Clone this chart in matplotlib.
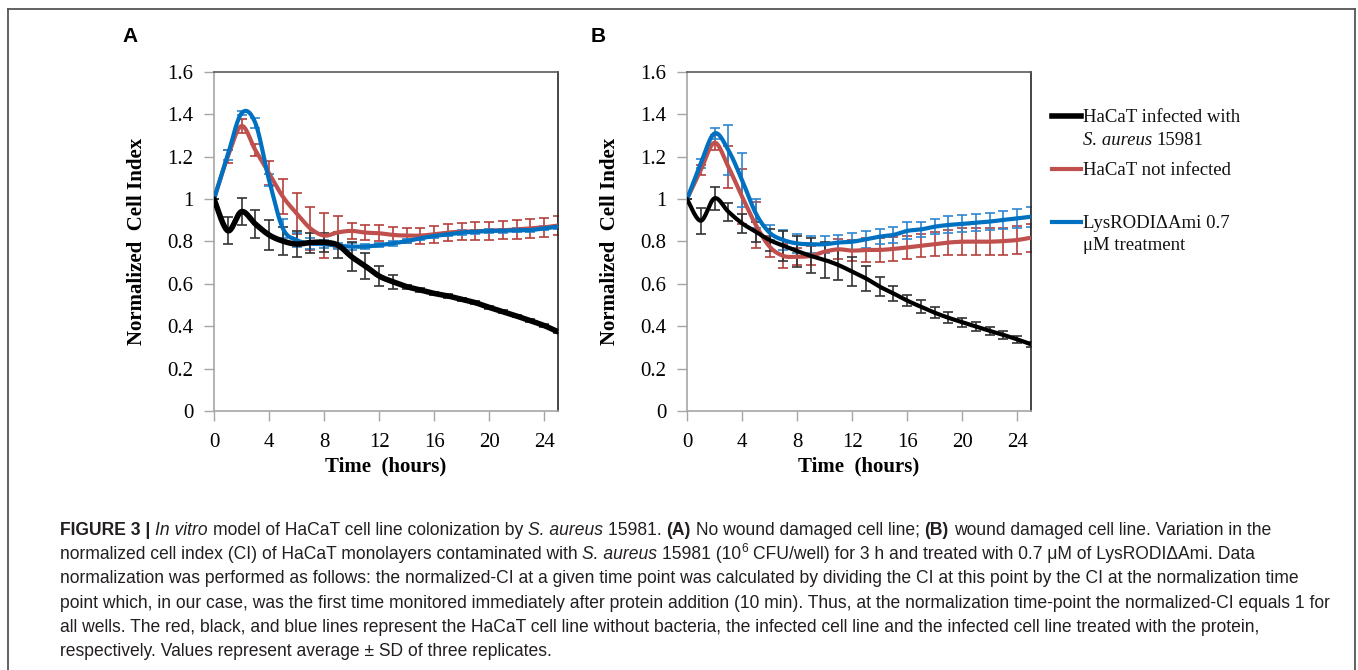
import numpy as np
import matplotlib.pyplot as plt
from matplotlib.lines import Line2D

W, H = 1358, 670

hours = np.arange(26)

# panel A (no wound)
a_black = [1.0, 0.851, 0.941, 0.883, 0.831, 0.802, 0.788, 0.795, 0.796, 0.783, 0.728, 0.684, 0.637,
           0.610, 0.587, 0.571, 0.555, 0.543, 0.527, 0.511, 0.489, 0.469, 0.448, 0.426, 0.403, 0.374]
a_black_sd = [0, 0.063, 0.065, 0.067, 0.07, 0.067, 0.06, 0.047, 0.045, 0.06, 0.068, 0.06, 0.047,
              0.032, 0.01, 0.008, 0.008, 0.008, 0.007, 0.007, 0.007, 0.006, 0.006, 0.006, 0.006, 0.006]
a_red = [1.0, 1.20, 1.345, 1.232, 1.122, 1.012, 0.933, 0.862, 0.828, 0.843, 0.85, 0.842, 0.839,
         0.831, 0.828, 0.828, 0.834, 0.842, 0.846, 0.848, 0.851, 0.853, 0.857, 0.862, 0.867, 0.875]
a_red_sd = [0, 0.03, 0.035, 0.03, 0.057, 0.083, 0.096, 0.10, 0.106, 0.075, 0.038, 0.037, 0.038,
            0.036, 0.037, 0.038, 0.04, 0.04, 0.041, 0.042, 0.042, 0.043, 0.043, 0.044, 0.045, 0.045]
a_blue = [1.0, 1.208, 1.405, 1.36, 1.09, 0.862, 0.807, 0.791, 0.787, 0.78, 0.776, 0.776, 0.783,
          0.791, 0.802, 0.815, 0.826, 0.834, 0.842, 0.846, 0.85, 0.851, 0.853, 0.854, 0.862, 0.87]
a_blue_sd = [0, 0.025, 0.01, 0.025, 0.03, 0.045, 0.035, 0.025, 0.02, 0.015, 0.015, 0.01, 0.01,
             0.01, 0.01, 0.01, 0.01, 0.01, 0.01, 0.01, 0.01, 0.01, 0.01, 0.01, 0.01, 0.01]

# panel B (wound damaged)
b_black = [1.0, 0.898, 1.004, 0.941, 0.886, 0.846, 0.807, 0.78, 0.755, 0.732, 0.713, 0.689, 0.658,
           0.626, 0.587, 0.555, 0.521, 0.492, 0.464, 0.44, 0.419, 0.398, 0.378, 0.359, 0.338, 0.315]
b_black_sd = [0, 0.061, 0.053, 0.043, 0.045, 0.047, 0.05, 0.07, 0.073, 0.083, 0.085, 0.07, 0.068,
              0.058, 0.045, 0.037, 0.027, 0.03, 0.027, 0.025, 0.022, 0.02, 0.02, 0.017, 0.015, 0.012]
b_red = [1.0, 1.137, 1.266, 1.153, 1.012, 0.878, 0.776, 0.732, 0.728, 0.732, 0.752, 0.763, 0.757,
         0.76, 0.76, 0.765, 0.772, 0.78, 0.787, 0.795, 0.799, 0.799, 0.799, 0.802, 0.807, 0.818]
b_red_sd = [0, 0.022, 0.035, 0.1, 0.13, 0.11, 0.05, 0.055, 0.04, 0.045, 0.04, 0.047, 0.05,
            0.055, 0.055, 0.055, 0.055, 0.055, 0.057, 0.06, 0.063, 0.063, 0.063, 0.064, 0.065, 0.066]
b_blue = [1.0, 1.169, 1.31, 1.232, 1.09, 0.933, 0.842, 0.807, 0.791, 0.787, 0.787, 0.795, 0.799,
          0.81, 0.823, 0.831, 0.85, 0.857, 0.87, 0.878, 0.883, 0.889, 0.894, 0.902, 0.909, 0.917]
b_blue_sd = [0, 0.02, 0.027, 0.118, 0.127, 0.067, 0.035, 0.047, 0.045, 0.041, 0.041, 0.037, 0.039,
             0.039, 0.035, 0.039, 0.04, 0.036, 0.036, 0.04, 0.04, 0.04, 0.042, 0.044, 0.045, 0.047]

legend_labels = ["HaCaT infected with", "HaCaT not infected", "LysRODI\u0394Ami 0.7"]
y_ticks = [0, 0.2, 0.4, 0.6, 0.8, 1.0, 1.2, 1.4, 1.6]
y_ticklabels = ["0", "0.2", "0.4", "0.6", "0.8", "1", "1.2", "1.4", "1.6"]
x_ticks = [0, 4, 8, 12, 16, 20, 24]

BLACK, RED, BLUE = "#000000", "#C0504D", "#0070C0"
SERIF = "Liberation Serif"
CAP_FONT = "Liberation Sans"
GRAY = "#A6A6A6"


def fx(px):
    return px / W


def fy(py):
    return 1 - py / H


def smooth(x, y, n=16):
    # Excel-style smoothed line: bezier through each point, control points from neighbours
    p = np.column_stack([np.asarray(x, float), np.asarray(y, float)])
    p = np.vstack([p[:1], p, p[-1:]])
    t = np.linspace(0, 1, n, endpoint=False)[:, None]
    out = []
    for i in range(len(p) - 3):
        p0, p1, p2, p3 = p[i], p[i + 1], p[i + 2], p[i + 3]
        c1 = p1 + (p2 - p0) / 6
        c2 = p2 - (p3 - p1) / 6
        out.append((1 - t) ** 3 * p1 + 3 * (1 - t) ** 2 * t * c1 + 3 * (1 - t) * t ** 2 * c2 + t ** 3 * p2)
    out.append(p[-2:-1])
    out = np.vstack(out)
    return out[:, 0], out[:, 1]


fig = plt.figure(figsize=(W / 100, H / 100), dpi=100)
renderer = fig.canvas.get_renderer()

# outer frame
for xs, ys in [([8, 8], [9, 680]), ([8, 1355], [9, 9]), ([1355, 1355], [9, 680])]:
    fig.add_artist(Line2D([fx(v) for v in xs], [fy(v) for v in ys], color="#555555", lw=1.3))

series = {
    "A": [(a_red, a_red_sd, RED, 3.0), (a_blue, a_blue_sd, BLUE, 3.0), (a_black, a_black_sd, BLACK, 4.0)],
    "B": [(b_red, b_red_sd, RED, 3.0), (b_blue, b_blue_sd, BLUE, 3.0), (b_black, b_black_sd, BLACK, 3.0)],
}
ecolors = {RED: "#B5403D", BLUE: "#2E86D0", BLACK: "#333333"}

for name, left, lab_x in [("A", 214, 130), ("B", 687, 598)]:
    ax = fig.add_axes([fx(left), fy(411), 344 / W, 339 / H])
    for vals, sd, col, lw in series[name]:
        ax.errorbar(hours, vals, yerr=sd, fmt="none", ecolor=ecolors[col], elinewidth=1.2,
                    capsize=3.5, capthick=1.2, zorder=2)
        sx, sy = smooth(hours, vals)
        ax.plot(sx, sy, color=col, lw=lw, solid_capstyle="round", zorder=3)
    ax.set_xlim(0, 25)
    ax.set_ylim(0, 1.6)
    ax.set_xticks(x_ticks)
    ax.set_yticks(y_ticks)
    ax.set_yticklabels(y_ticklabels)
    ax.tick_params(direction="out", length=7, width=1, color=GRAY, pad=8)
    ax.tick_params(axis="x", pad=9)
    for lab in ax.get_xticklabels() + ax.get_yticklabels():
        lab.set_family(SERIF)
        lab.set_fontsize(15)
    ax.spines["left"].set_color(GRAY)
    ax.spines["bottom"].set_color(GRAY)
    ax.spines["top"].set_color("#595959")
    ax.spines["right"].set_color("#262626")
    for s in ax.spines.values():
        s.set_linewidth(1.2)
    ax.set_xlabel("Time  (hours)", family=SERIF, fontsize=15, weight="bold")
    ax.set_ylabel("Normalized  Cell Index", family=SERIF, fontsize=15, weight="bold")
    ax.xaxis.set_label_coords(0.5, -0.165)
    ax.xaxis.label.set_verticalalignment("center")
    ax.yaxis.set_label_coords(-0.225, 0.5)
    ax.yaxis.label.set_verticalalignment("center")
    fig.text(fx(lab_x), fy(37), name, family="Liberation Sans", weight="bold", fontsize=15,
             ha="center", va="center")


def adv(txt, size, family, style):
    kw = dict(fontsize=size, family=family)
    if style == "b":
        kw["weight"] = "bold"
    if style == "i":
        kw["style"] = "italic"
    t1 = fig.text(0, 0, "x" + txt + "x", **kw)
    t2 = fig.text(0, 0, "xx", **kw)
    w = t1.get_window_extent(renderer).width - t2.get_window_extent(renderer).width
    t1.remove()
    t2.remove()
    return w


def draw_runs(x, y, runs, size, family, color):
    for txt, style in runs:
        kw = dict(fontsize=size, family=family, color=color, va="baseline", ha="left")
        yy = y
        if style == "b":
            kw["weight"] = "bold"
        elif style == "i":
            kw["style"] = "italic"
        elif style == "sup":
            kw["fontsize"] = size * 0.68
            yy = y - size * 0.6
        s = kw["fontsize"]
        lead = len(txt) - len(txt.lstrip(" "))
        if txt.strip():
            x0 = x + (adv(" " * lead, s, family, style) if lead else 0)
            fig.text(fx(x0), fy(yy), txt.lstrip(" "), **kw)
        x += adv(txt, s, family, style)
    return x


# legend
leg_rows = [(116, legend_labels[0], BLACK, 4.0), (169, legend_labels[1], RED, 3.0), (222, legend_labels[2], BLUE, 3.0)]
for py, lab, col, lw in leg_rows:
    fig.add_artist(Line2D([fx(1052), fx(1081)], [fy(py), fy(py)], color=col, lw=lw))
draw_runs(1083, 122, [(legend_labels[0], "n")], 13.5, SERIF, "#111111")
draw_runs(1083, 145, [("S. aureus", "i"), (" 15981", "n")], 13.5, SERIF, "#111111")
draw_runs(1083, 175, [(legend_labels[1], "n")], 13.5, SERIF, "#111111")
draw_runs(1083, 228, [(legend_labels[2], "n")], 13.5, SERIF, "#111111")
draw_runs(1083, 250, [("\u03bcM treatment", "n")], 13.5, SERIF, "#111111")

# caption
cap_lines = [
    [("FIGURE 3 | ", "b"), ("In vitro", "i"), (" model of HaCaT cell line colonization by ", "n"),
     ("S. aureus", "i"), (" 15981. ", "n"), ("(A)", "b"), (" No wound damaged cell line; ", "n"),
     ("(B)", "b"), (" wound damaged cell line. Variation in the", "n")],
    [("normalized cell index (CI) of HaCaT monolayers contaminated with ", "n"), ("S. aureus", "i"),
     (" 15981 (10", "n"), ("6", "sup"), (" CFU/well) for 3 h and treated with 0.7 \u03bcM of LysRODI\u0394Ami. Data", "n")],
    [("normalization was performed as follows: the normalized-CI at a given time point was calculated "
      "by dividing the CI at this point by the CI at the normalization time", "n")],
    [("point which, in our case, was the first time monitored immediately after protein addition (10 min). "
      "Thus, at the normalization time-point the normalized-CI equals 1 for", "n")],
    [("all wells. The red, black, and blue lines represent the HaCaT cell line without bacteria, "
      "the infected cell line and the infected cell line treated with the protein,", "n")],
    [("respectively. Values represent average \u00b1 SD of three replicates.", "n")],
]
cap_size = 12 * 1277 / adv(cap_lines[3][0][0], 12, CAP_FONT, "n")
for i, runs in enumerate(cap_lines):
    draw_runs(60, 535 + 24.2 * i, runs, cap_size, CAP_FONT, "#231F20")

fig.savefig("out.png", dpi=100)
